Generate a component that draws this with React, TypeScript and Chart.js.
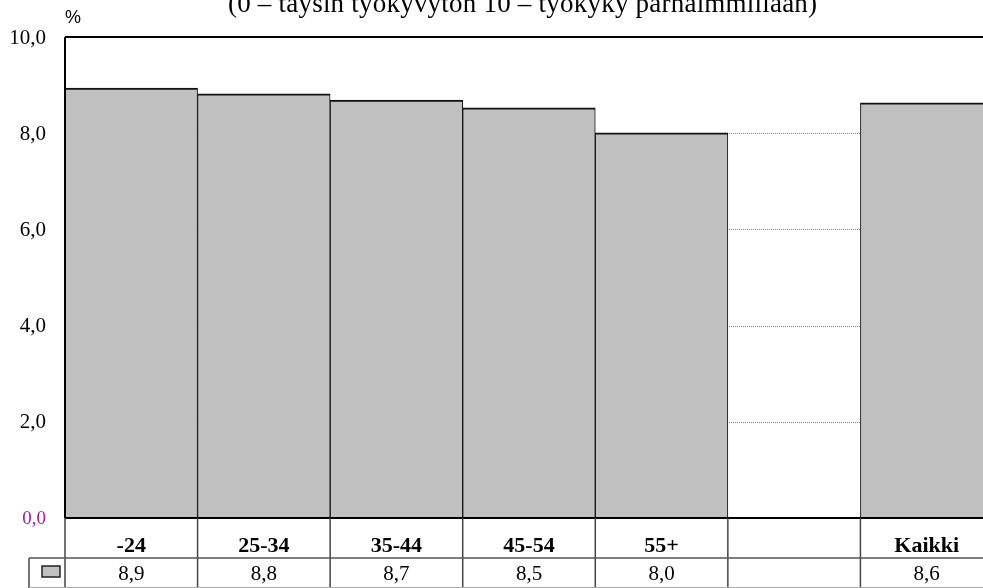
import { useEffect, useRef } from "react";
import { Chart, registerables } from "chart.js";

Chart.register(...registerables);

const titleText = "(0 – täysin työkyvytön 10 – työkyky parhaimmillaan)";
const unitLabel = "%";
const categories = ["-24", "25-34", "35-44", "45-54", "55+", "", "Kaikki"];
const values: (number | null)[] = [8.94, 8.82, 8.69, 8.53, 8.01, null, 8.63];
const yTicks = [0, 2, 4, 6, 8, 10];

const fmt = (v: number) => v.toFixed(1).replace(".", ",");

const SERIF = "'Liberation Serif', 'Times New Roman', serif";
const SANS = "'Liberation Sans', Arial, sans-serif";

const tablePlugin = {
  id: "tablePlugin",
  beforeDatasetsDraw(chart: any) {
    const { ctx, chartArea } = chart;
    const y = chart.scales.y;
    ctx.save();
    ctx.strokeStyle = "#8a8a8a";
    ctx.lineWidth = 1;
    ctx.setLineDash([1, 1]);
    yTicks.forEach((t) => {
      if (t === 0 || t === 10) return;
      const py = Math.round(y.getPixelForValue(t)) + 0.5;
      ctx.beginPath();
      ctx.moveTo(chartArea.left, py);
      ctx.lineTo(chartArea.right, py);
      ctx.stroke();
    });
    ctx.restore();
  },
  afterDatasetsDraw(chart: any) {
    const { ctx, chartArea } = chart;
    const y = chart.scales.y;
    const x = chart.scales.x;
    const H = chart.height;
    ctx.save();

    // frame lines
    const topY = y.getPixelForValue(10);
    const botY = y.getPixelForValue(0);
    ctx.strokeStyle = "#000";
    ctx.lineWidth = 2;
    ctx.beginPath();
    ctx.moveTo(chartArea.left, topY);
    ctx.lineTo(chartArea.right, topY);
    ctx.moveTo(chartArea.left, topY);
    ctx.lineTo(chartArea.left, botY);
    ctx.moveTo(chartArea.left, botY);
    ctx.lineTo(chartArea.right, botY);
    ctx.stroke();

    // y tick labels
    ctx.textAlign = "right";
    ctx.textBaseline = "middle";
    yTicks.forEach((t) => {
      ctx.font = (t === 0 ? "19px " : "21px ") + SERIF;
      ctx.fillStyle = t === 0 ? "#a0209f" : "#000";
      ctx.fillText(fmt(t), 46, y.getPixelForValue(t) + 1);
    });

    // unit label
    ctx.textAlign = "left";
    ctx.textBaseline = "alphabetic";
    ctx.fillStyle = "#000";
    ctx.font = "18px " + SANS;
    ctx.fillText(unitLabel, 65, 23);

    // title (clipped at top)
    ctx.font = "27px " + SERIF;
    ctx.textAlign = "center";
    const targetW = 589;
    const w0 = ctx.measureText(titleText).width;
    const ls = (targetW - w0) / (titleText.length - 1);
    (ctx as any).letterSpacing = ls.toFixed(2) + "px";
    ctx.fillText(titleText, 522.5 + ls / 2, 12);
    (ctx as any).letterSpacing = "0px";

    // table
    const n = categories.length;
    const half = (x.getPixelForValue(1) - x.getPixelForValue(0)) / 2;
    const row1 = 558;
    const tableBottom = H - 1;
    ctx.strokeStyle = "#444";
    ctx.lineWidth = 1.5;
    for (let i = 0; i <= n; i++) {
      const bx = i < n ? x.getPixelForValue(i) - half : x.getPixelForValue(n - 1) + half;
      ctx.beginPath();
      ctx.moveTo(bx, botY);
      ctx.lineTo(bx, H);
      ctx.stroke();
    }
    // legend cell
    ctx.beginPath();
    ctx.moveTo(29, row1);
    ctx.lineTo(29, H);
    ctx.stroke();
    ctx.strokeStyle = "#555";
    ctx.lineWidth = 1.5;
    ctx.beginPath();
    ctx.moveTo(29, row1);
    ctx.lineTo(chartArea.right, row1);
    ctx.stroke();
    ctx.strokeStyle = "#aaa";
    ctx.lineWidth = 1;
    ctx.beginPath();
    ctx.moveTo(29, tableBottom + 0.5);
    ctx.lineTo(chartArea.right, tableBottom + 0.5);
    ctx.stroke();

    // legend swatch
    ctx.fillStyle = "#c0c0c0";
    ctx.fillRect(42, 566, 18, 11);
    ctx.strokeStyle = "#222";
    ctx.lineWidth = 1.5;
    ctx.strokeRect(42, 566, 18, 11);

    ctx.textAlign = "center";
    ctx.textBaseline = "alphabetic";
    ctx.fillStyle = "#000";
    categories.forEach((c, i) => {
      const cx = x.getPixelForValue(i);
      ctx.font = "bold 22px " + SERIF;
      ctx.fillText(c, cx, 552);
      const v = values[i];
      if (v !== null) {
        ctx.font = "21px " + SERIF;
        ctx.fillText(fmt(v), cx, 580);
      }
    });

    ctx.restore();
  },
};

export default function App() {
  const ref = useRef<HTMLCanvasElement | null>(null);
  useEffect(() => {
    document.body.style.overflow = "hidden";
    const canvas = ref.current!;
    const chart = new Chart(canvas, {
      type: "bar",
      data: {
        labels: categories,
        datasets: [
          {
            data: values as any,
            backgroundColor: "#c0c0c0",
            borderColor: "#111",
            borderWidth: { top: 2, left: 1, right: 1, bottom: 0 } as any,
            borderSkipped: false,
            barPercentage: 1,
            categoryPercentage: 1,
          },
        ],
      },
      options: {
        responsive: false,
        animation: false,
        devicePixelRatio: 1,
        layout: { padding: { left: 65, top: 37, right: 7, bottom: 70 } },
        plugins: { legend: { display: false }, tooltip: { enabled: false }, title: { display: false } },
        scales: {
          x: { display: false },
          y: { display: false, min: 0, max: 10 },
        },
      },
      plugins: [tablePlugin],
    });
    return () => chart.destroy();
  }, []);
  return (
    <div style={{ position: "absolute", left: 0, top: 0, width: 1000, height: 588, overflow: "hidden", background: "#fff" }}>
      <canvas ref={ref} width={1000} height={588} style={{ width: 1000, height: 588, display: "block" }} />
    </div>
  );
}
